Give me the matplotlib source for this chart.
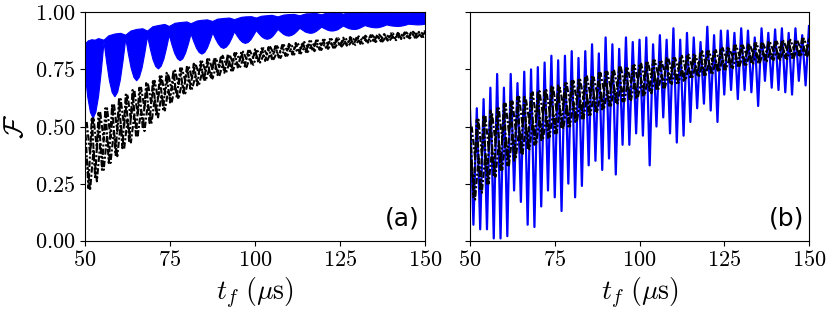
import numpy as np
import matplotlib
matplotlib.use("Agg")
import matplotlib.pyplot as plt

plt.rcParams['font.family'] = 'serif'
plt.rcParams['font.serif'] = ['cmr10']
plt.rcParams['mathtext.fontset'] = 'cm'
plt.rcParams['axes.formatter.use_mathtext'] = True

# ---- panel (a): blue band (fast oscillation drawn as filled envelope) ----
t_a_up = [50, 51, 52, 53, 54, 55.6, 57, 58.8, 60.5, 62.0, 63.5, 65.2, 67, 68.4, 70, 71.6,
          73.5, 74.8, 76.5, 78.0, 80, 81.2, 83, 84.4, 86, 87.6, 89, 90.8, 92.5, 94.0,
          96, 97.2, 99, 100.4, 102, 103.6, 105, 106.8, 108.5, 110.0, 111.5, 113.2,
          115, 116.4, 118, 119.6, 121, 122.8, 124.5, 126.0, 127.5, 129.2, 131, 132.4,
          134, 135.6, 137, 138.8, 140.5, 142.0, 143.5, 145.2, 147, 148.4, 150]
f_a_up = [0.860, 0.875, 0.880, 0.878, 0.885, 0.878, 0.897, 0.905, 0.908, 0.900, 0.918, 0.925, 0.928, 0.918, 0.937, 0.942,
          0.947, 0.938, 0.952, 0.955, 0.958, 0.950, 0.962, 0.965, 0.967, 0.960, 0.970, 0.973, 0.975, 0.968,
          0.978, 0.980, 0.981, 0.975, 0.983, 0.985, 0.987, 0.980, 0.988, 0.990, 0.991, 0.985,
          0.993, 0.994, 0.995, 0.989, 0.996, 0.997, 0.998, 0.992, 0.998, 0.999, 0.999, 0.994,
          0.999, 1.000, 1.000, 0.995, 1.000, 1.000, 1.000, 0.996, 1.000, 1.000, 1.000]
t_a_lo = [50, 50.8, 51.6, 52.4, 53.2, 54.0, 54.8, 55.6,
          56.4, 57.2, 58.0, 58.8, 59.6, 60.4, 61.2, 62.0,
          62.8, 63.6, 64.4, 65.2, 66.0, 66.8, 67.6, 68.4,
          69.2, 70.0, 70.8, 71.6, 72.4, 73.2, 74.0, 74.8,
          75.6, 76.4, 77.2, 78.0, 78.8, 79.6, 80.4, 81.2,
          82.0, 82.8, 83.6, 84.4, 85.2, 86.0, 86.8, 87.6,
          88.4, 89.2, 90.0, 90.8, 91.6, 92.4, 93.2, 94.0,
          94.8, 95.6, 96.4, 97.2, 98.0, 98.8, 99.6, 100.4,
          101.2, 102.0, 102.8, 103.6, 104.4, 105.2, 106.0, 106.8,
          107.6, 108.4, 109.2, 110.0, 110.8, 111.6, 112.4, 113.2,
          114.0, 114.8, 115.6, 116.4, 117.2, 118.0, 118.8, 119.6,
          120.4, 121.2, 122.0, 122.8, 123.6, 124.4, 125.2, 126.0,
          126.8, 127.6, 128.4, 129.2, 130.0, 130.8, 131.6, 132.4,
          133.2, 134.0, 134.8, 135.6, 136.4, 137.2, 138.0, 138.8,
          139.6, 140.4, 141.2, 142.0, 142.8, 143.6, 144.4, 145.2,
          146.0, 146.8, 147.6, 148.4, 149.2, 150]
f_a_lo = [0.740, 0.630, 0.562, 0.536, 0.563, 0.633, 0.743, 0.870,
          0.779, 0.700, 0.649, 0.630, 0.650, 0.704, 0.788, 0.885,
          0.815, 0.754, 0.715, 0.700, 0.716, 0.757, 0.821, 0.895,
          0.841, 0.793, 0.763, 0.752, 0.764, 0.795, 0.844, 0.900,
          0.857, 0.820, 0.797, 0.788, 0.797, 0.822, 0.861, 0.905,
          0.872, 0.843, 0.824, 0.817, 0.824, 0.844, 0.875, 0.910,
          0.884, 0.862, 0.847, 0.842, 0.848, 0.863, 0.887, 0.915,
          0.896, 0.879, 0.868, 0.864, 0.868, 0.880, 0.899, 0.920,
          0.906, 0.893, 0.885, 0.882, 0.885, 0.894, 0.909, 0.925,
          0.914, 0.904, 0.898, 0.896, 0.899, 0.906, 0.917, 0.930,
          0.922, 0.914, 0.910, 0.908, 0.910, 0.916, 0.925, 0.935,
          0.929, 0.923, 0.919, 0.918, 0.920, 0.924, 0.932, 0.940,
          0.934, 0.929, 0.926, 0.925, 0.926, 0.930, 0.936, 0.942,
          0.938, 0.935, 0.933, 0.932, 0.933, 0.936, 0.940, 0.945,
          0.942, 0.940, 0.939, 0.938, 0.939, 0.941, 0.944, 0.948,
          0.947, 0.946, 0.945, 0.945, 0.946, 0.948]

# ---- panel (a): black dash-dot curves ----
t_a_dash = np.arange(50, 151, 1)
t_a_dash_half = np.arange(50.5, 151, 1)
f_a_full = [0.52, 0.23, 0.54, 0.27, 0.56, 0.31, 0.58, 0.34, 0.60, 0.375, 0.62, 0.405, 0.64, 0.43,
            0.66, 0.46, 0.67, 0.49, 0.69, 0.515, 0.705, 0.545, 0.72, 0.575, 0.735, 0.605, 0.745,
            0.625, 0.755, 0.645, 0.765, 0.665, 0.775, 0.68, 0.785, 0.70, 0.795, 0.71, 0.80, 0.725,
            0.81, 0.735, 0.815, 0.745, 0.822, 0.755, 0.828, 0.763, 0.832, 0.771, 0.838, 0.779,
            0.843, 0.787, 0.848, 0.795, 0.852, 0.802, 0.857, 0.809, 0.862, 0.815, 0.866, 0.821,
            0.87, 0.826, 0.874, 0.831, 0.877, 0.836, 0.88, 0.84, 0.883, 0.845, 0.886, 0.85, 0.889,
            0.854, 0.892, 0.858, 0.895, 0.862, 0.898, 0.866, 0.90, 0.87, 0.903, 0.873, 0.905, 0.876,
            0.908, 0.88, 0.91, 0.883, 0.912, 0.886, 0.915, 0.889, 0.917, 0.892, 0.92]
f_a_dash1 = [0.52, 0.38, 0.54, 0.40, 0.56, 0.44, 0.58, 0.45, 0.60, 0.48, 0.62, 0.50, 0.64, 0.53, 0.66, 0.55,
             0.67, 0.58, 0.69, 0.60, 0.70, 0.62, 0.72, 0.64, 0.73, 0.66, 0.745, 0.68, 0.755, 0.70,
             0.765, 0.71, 0.775, 0.73, 0.785, 0.74, 0.795, 0.75, 0.80, 0.76, 0.81, 0.77, 0.815, 0.78,
             0.822, 0.79, 0.828, 0.795, 0.832, 0.80, 0.838, 0.81, 0.843, 0.815, 0.848, 0.82, 0.852,
             0.828, 0.857, 0.832, 0.862, 0.838, 0.866, 0.842, 0.87, 0.848, 0.874, 0.852, 0.877, 0.856,
             0.88, 0.86, 0.883, 0.863, 0.886, 0.867, 0.889, 0.87, 0.892, 0.874, 0.895, 0.877, 0.898,
             0.88, 0.90, 0.884, 0.903, 0.887, 0.905, 0.89, 0.908, 0.892, 0.91, 0.895, 0.912, 0.898,
             0.915, 0.901, 0.917, 0.904, 0.92]
f_a_dash2 = [0.36, 0.22, 0.40, 0.26, 0.43, 0.31, 0.46, 0.34, 0.48, 0.37, 0.51, 0.40, 0.53, 0.43, 0.55, 0.46,
             0.57, 0.48, 0.60, 0.51, 0.62, 0.54, 0.64, 0.57, 0.66, 0.605, 0.68, 0.62, 0.69, 0.645,
             0.71, 0.665, 0.72, 0.68, 0.74, 0.70, 0.75, 0.71, 0.76, 0.72, 0.77, 0.735, 0.78, 0.745,
             0.786, 0.755, 0.795, 0.76, 0.80, 0.77, 0.806, 0.78, 0.812, 0.785, 0.818, 0.795, 0.825,
             0.80, 0.83, 0.81, 0.837, 0.815, 0.84, 0.82, 0.846, 0.826, 0.85, 0.83, 0.855, 0.835,
             0.859, 0.84, 0.863, 0.845, 0.867, 0.85, 0.87, 0.854, 0.873, 0.857, 0.877, 0.86, 0.88,
             0.864, 0.884, 0.87, 0.887, 0.872, 0.89, 0.875, 0.893, 0.878, 0.896, 0.881, 0.898, 0.886,
             0.90, 0.889, 0.903, 0.892, 0.907]

# ---- panel (b): blue oscillating curve ----
t_b = np.arange(50, 151, 1)
f_b_blue = [0.57, 0.07, 0.58, 0.05, 0.62, 0.05, 0.67, 0.01, 0.73, 0.01, 0.67, 0.02, 0.73, 0.22, 0.69, 0.17,
            0.74, 0.07, 0.75, 0.06, 0.76, 0.15, 0.78, 0.22, 0.81, 0.19, 0.79, 0.13, 0.81, 0.25,
            0.83, 0.19, 0.80, 0.24, 0.83, 0.33, 0.86, 0.35, 0.82, 0.31, 0.89, 0.36, 0.86, 0.29,
            0.84, 0.42, 0.89, 0.42, 0.87, 0.47, 0.88, 0.46, 0.89, 0.33, 0.86, 0.50, 0.90, 0.54,
            0.88, 0.47, 0.93, 0.43, 0.88, 0.46, 0.91, 0.52, 0.89, 0.58, 0.87, 0.60, 0.937, 0.57,
            0.90, 0.52, 0.92, 0.64, 0.92, 0.66, 0.91, 0.62, 0.93, 0.66, 0.92, 0.65, 0.89, 0.59,
            0.93, 0.70, 0.91, 0.67, 0.925, 0.66, 0.93, 0.65, 0.91, 0.64, 0.93, 0.70, 0.90, 0.68,
            0.94]

# ---- panel (b): black dash-dot curves ----
f_b_full = [0.52, 0.19, 0.53, 0.22, 0.55, 0.25, 0.57, 0.28, 0.58, 0.31, 0.60, 0.33, 0.61, 0.35,
            0.63, 0.38, 0.63, 0.40, 0.645, 0.42, 0.655, 0.44, 0.66, 0.45, 0.675, 0.47, 0.68, 0.49,
            0.69, 0.50, 0.70, 0.52, 0.705, 0.535, 0.72, 0.55, 0.725, 0.56, 0.735, 0.575, 0.74,
            0.585, 0.745, 0.60, 0.76, 0.61, 0.76, 0.615, 0.77, 0.625, 0.775, 0.635, 0.78, 0.65,
            0.79, 0.66, 0.79, 0.67, 0.80, 0.685, 0.80, 0.69, 0.805, 0.70, 0.815, 0.71, 0.815, 0.72,
            0.825, 0.725, 0.83, 0.735, 0.835, 0.74, 0.845, 0.75, 0.845, 0.76, 0.855, 0.765, 0.855,
            0.77, 0.86, 0.775, 0.865, 0.78, 0.865, 0.785, 0.87, 0.79, 0.872, 0.792, 0.875, 0.795,
            0.88, 0.80, 0.88, 0.805, 0.885, 0.808, 0.885]
f_b_dash1 = [0.50, 0.36, 0.53, 0.37, 0.55, 0.40, 0.56, 0.43, 0.58, 0.44, 0.60, 0.47, 0.61, 0.48, 0.63, 0.50,
             0.62, 0.52, 0.65, 0.53, 0.655, 0.55, 0.66, 0.56, 0.675, 0.57, 0.67, 0.59, 0.69, 0.60,
             0.70, 0.61, 0.705, 0.62, 0.72, 0.635, 0.715, 0.645, 0.735, 0.655, 0.74, 0.665, 0.745,
             0.675, 0.76, 0.685, 0.755, 0.69, 0.77, 0.70, 0.775, 0.705, 0.78, 0.715, 0.79, 0.725,
             0.785, 0.735, 0.80, 0.74, 0.80, 0.75, 0.81, 0.755, 0.815, 0.76, 0.81, 0.77, 0.83, 0.775,
             0.83, 0.785, 0.835, 0.79, 0.845, 0.80, 0.84, 0.805, 0.855, 0.81, 0.855, 0.815, 0.86,
             0.82, 0.865, 0.822, 0.862, 0.826, 0.87, 0.83, 0.872, 0.833, 0.875, 0.836, 0.88, 0.84,
             0.878, 0.843, 0.885, 0.846, 0.885]
f_b_dash2 = [0.33, 0.18, 0.36, 0.21, 0.38, 0.25, 0.40, 0.28, 0.43, 0.31, 0.45, 0.33, 0.47, 0.36, 0.49, 0.38,
             0.51, 0.40, 0.52, 0.42, 0.54, 0.44, 0.55, 0.455, 0.565, 0.47, 0.58, 0.49, 0.59, 0.50,
             0.605, 0.52, 0.615, 0.535, 0.63, 0.55, 0.64, 0.56, 0.65, 0.575, 0.66, 0.585, 0.67, 0.60,
             0.68, 0.61, 0.69, 0.615, 0.695, 0.625, 0.70, 0.635, 0.71, 0.645, 0.72, 0.66, 0.73, 0.67,
             0.735, 0.685, 0.745, 0.69, 0.75, 0.70, 0.76, 0.71, 0.765, 0.715, 0.775, 0.725, 0.78,
             0.73, 0.785, 0.74, 0.795, 0.75, 0.80, 0.755, 0.805, 0.765, 0.812, 0.77, 0.815, 0.775,
             0.82, 0.78, 0.825, 0.785, 0.828, 0.79, 0.831, 0.792, 0.835, 0.795, 0.838, 0.80, 0.842,
             0.805, 0.845, 0.808, 0.848]

xticks = [50, 75, 100, 125, 150]
yticks = [0.0, 0.25, 0.5, 0.75, 1.0]
dash_style = dict(color='black', lw=1.5, ls=(0, (3, 1, 1, 1)))

fig = plt.figure(figsize=(8.3, 3.12), dpi=100)
ax1 = fig.add_axes([0.1024, 0.2285, 0.4096, 0.732])
ax2 = fig.add_axes([0.5663, 0.2285, 0.4084, 0.732])

# (a)
ax1.fill(list(t_a_up) + list(t_a_lo[::-1]), list(f_a_up) + list(f_a_lo[::-1]),
         color='blue', lw=0.8, ec='blue')
ax1.plot(t_a_dash, f_a_full, **dash_style)
ax1.plot(t_a_dash_half, f_a_dash1, **dash_style)
ax1.plot(t_a_dash_half, f_a_dash2, **dash_style)
ax1.text(0.985, 0.045, '(a)', transform=ax1.transAxes, ha='right', va='bottom',
         family='DejaVu Sans', fontsize=18)
ax1.set_ylabel(r'$\mathcal{F}$', fontsize=20)

# (b)
ax2.plot(t_b, f_b_blue, color='blue', lw=1.6)
ax2.plot(t_b, f_b_full, **dash_style)
ax2.plot(t_a_dash_half, f_b_dash1, **dash_style)
ax2.plot(t_a_dash_half, f_b_dash2, **dash_style)
ax2.text(0.985, 0.045, '(b)', transform=ax2.transAxes, ha='right', va='bottom',
         family='DejaVu Sans', fontsize=18)

for ax in (ax1, ax2):
    ax.set_xlim(50, 150)
    ax.set_ylim(0, 1)
    ax.set_xticks(xticks)
    ax.set_yticks(yticks)
    ax.tick_params(labelsize=16)
    ax.set_xlabel(r'$t_f\ (\mu\mathrm{s})$', fontsize=20)
ax2.set_yticklabels([])

fig.savefig('out.png', dpi=100)
